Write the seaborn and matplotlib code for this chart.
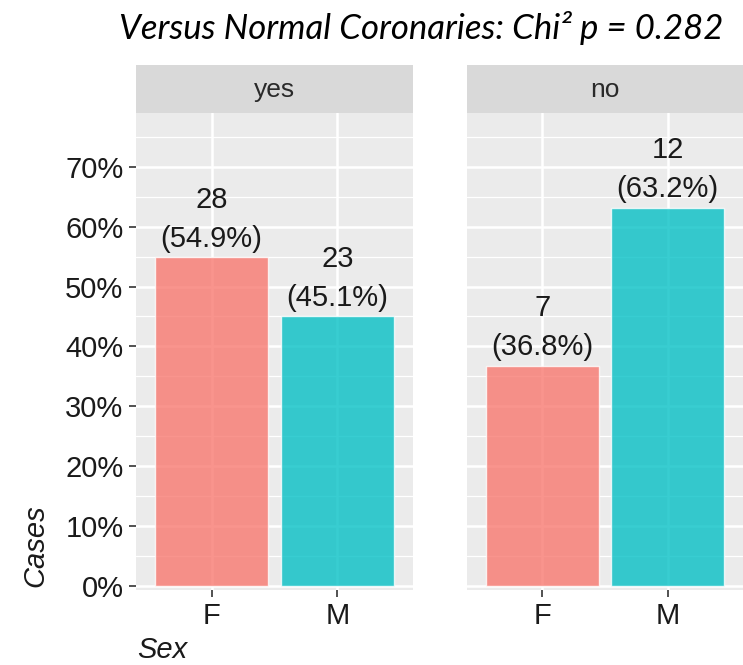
import pandas as pd
import matplotlib.pyplot as plt
import seaborn as sns

# data
groups = ["yes", "no"]
sexes = ["F", "M"]
percents = {"yes": [54.9, 45.1], "no": [36.8, 63.2]}
counts = {"yes": [28, 23], "no": [7, 12]}
y_ticks = [0, 10, 20, 30, 40, 50, 60, 70]
title = "Versus Normal Coronaries: Chi\u00b2 p = 0.282"

colors = {"F": "#F8766D", "M": "#00BFC4"}


def build_frame():
    rows = []
    for g in groups:
        for s, p, n in zip(sexes, percents[g], counts[g]):
            rows.append({"group": g, "Sex": s, "pct": p, "n": n})
    return pd.DataFrame(rows)


def main():
    sns.set_theme(style="darkgrid")
    plt.rcParams["font.family"] = ["Liberation Sans", "DejaVu Sans"]
    df = build_frame()

    fig = plt.figure(figsize=(7.43, 6.65), dpi=100)
    W, H = 743, 665
    panels = [(136, 277), (467, 276)]
    top, bottom, strip_top = 113, 590, 65

    for i, (g, (x0, w)) in enumerate(zip(groups, panels)):
        ax = fig.add_axes([x0 / W, 1 - bottom / H, w / W, (bottom - top) / H])
        sub = df[df["group"] == g]
        sns.barplot(data=sub, x="Sex", y="pct", hue="Sex", palette=colors,
                    order=sexes, hue_order=sexes, width=0.9, saturation=1,
                    alpha=0.78, legend=False, ax=ax, zorder=3)
        ax.set_facecolor("#EBEBEB")
        ax.set_xlim(-0.6, 1.6)
        ax.set_ylim(-0.7, 79)
        ax.set_yticks(y_ticks)
        ax.set_yticks([v + 5 for v in y_ticks], minor=True)
        ax.grid(True, which="major", color="white", linewidth=1.8, zorder=0)
        ax.grid(True, which="minor", axis="y", color="white", linewidth=0.9, zorder=0)
        ax.set_axisbelow(True)
        for sp in ax.spines.values():
            sp.set_visible(False)
        ax.tick_params(axis="both", which="major", length=5, width=1.2,
                       color="#333333", labelsize=21, labelcolor="#1A1A1A",
                       pad=4, bottom=True, left=True)
        ax.tick_params(which="minor", length=0)
        if i == 0:
            ax.set_yticklabels([f"{v}%" for v in y_ticks])
        else:
            ax.tick_params(axis="y", left=False, labelleft=False)
        ax.set_xlabel("")
        ax.set_ylabel("")

        for j, (p, n) in enumerate(zip(percents[g], counts[g])):
            ax.annotate(f"{n}\n({p}%)", (j, p), xytext=(0, 3),
                        textcoords="offset points", ha="center", va="bottom",
                        fontsize=21, color="#1A1A1A", linespacing=1.5)

        # facet strip
        sax = fig.add_axes([x0 / W, 1 - top / H, w / W, (top - strip_top) / H])
        sax.set_facecolor("#D9D9D9")
        sax.set_xticks([])
        sax.set_yticks([])
        for sp in sax.spines.values():
            sp.set_visible(False)
        sax.text(0.5, 0.48, g, ha="center", va="center", fontsize=19,
                 color="#2A2A2A", transform=sax.transAxes)

    fig.text(137 / W, 1 - 650 / H, "Sex", ha="left", va="center",
             fontsize=21, style="italic", color="#1A1A1A")
    fig.text(35 / W, 1 - 587 / H, "Cases", ha="center", va="bottom",
             rotation=90, fontsize=21, style="italic", color="#1A1A1A")
    fig.text(421 / W, 1 - 28 / H, title, ha="center", va="center",
             fontsize=25, style="italic", color="black", family=["Lato", "DejaVu Sans"])

    fig.savefig("out.png", dpi=100)
    plt.close(fig)


if __name__ == "__main__":
    main()
